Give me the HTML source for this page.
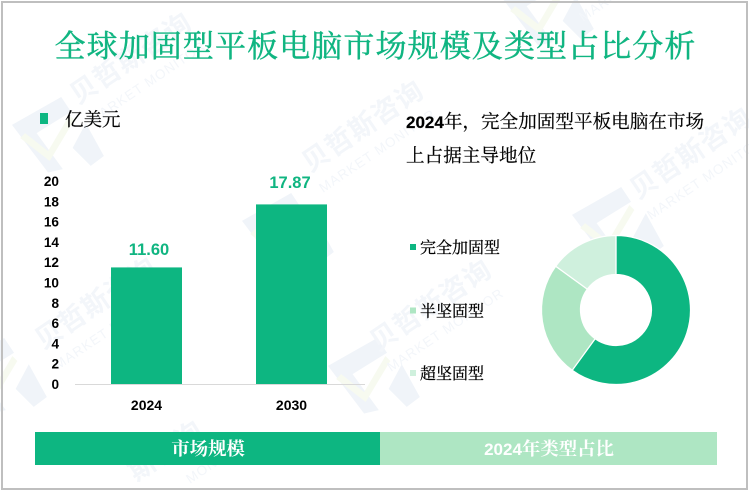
<!DOCTYPE html>
<html lang="zh-CN">
<head>
<meta charset="utf-8">
<title>全球加固型平板电脑市场规模及类型占比分析</title>
<style>
html,body{margin:0;padding:0;background:#fff;width:749px;height:491px;overflow:hidden;}
svg{display:block;}
.serif{font-family:"Liberation Serif","Noto Serif CJK SC",serif;}
.sans{font-family:"Liberation Sans","Noto Sans CJK SC",sans-serif;}
.wm-cn{font-family:"Liberation Sans","Noto Sans CJK SC",sans-serif;font-size:27px;font-weight:700;fill:#f3f6fa;letter-spacing:1px;}
.wm-en{font-family:"Liberation Sans",sans-serif;font-size:13.5px;fill:#f3f6fa;letter-spacing:1px;}
</style>
</head>
<body>
<svg id="chart" xmlns="http://www.w3.org/2000/svg" width="749" height="491" viewBox="0 0 749 491">
  <rect x="0" y="0" width="749" height="491" fill="#ffffff"/>

  <g id="watermarks"></g>

  <rect x="2" y="2" width="745" height="487" fill="none" stroke="#bfbfbf" stroke-width="2"/>

  <text class="serif" x="375.5" y="57" text-anchor="middle" font-size="31" letter-spacing="1.1" fill="#10b581" stroke="#10b581" stroke-width="0.45">全球加固型平板电脑市场规模及类型占比分析</text>

  <rect x="40" y="113" width="8" height="11" fill="#0db681"/>
  <text class="serif" x="65" y="126" font-size="18.5" fill="#000" stroke="#000" stroke-width="0.2">亿美元</text>

  <text class="serif" x="406" y="128" font-size="18.6" fill="#000" stroke="#000" stroke-width="0.2"><tspan class="sans" font-weight="700" font-size="17">2024</tspan>年，完全加固型平板电脑在市场</text>
  <text class="serif" x="406" y="162" font-size="18.6" fill="#000" stroke="#000" stroke-width="0.2">上占据主导地位</text>

  <g id="y-axis"></g>
  <g id="bars"></g>
  <g id="x-axis"></g>
  <g id="donut"></g>
  <g id="donut-legend"></g>

  <rect x="35" y="432" width="345" height="33" fill="#0db681"/>
  <text class="serif" x="208" y="455" text-anchor="middle" font-size="18.4" font-weight="700" fill="#ffffff">市场规模</text>
  <rect x="380" y="432" width="337" height="33" fill="#aee6c3"/>
  <text class="serif" x="549" y="455" text-anchor="middle" font-size="18.4" font-weight="700" fill="#ffffff"><tspan class="sans" font-size="17">2024</tspan>年类型占比</text>
</svg>
<script>
const categories = ['2024', '2030'];
const barValues = [11.60, 17.87];
const barLabels = ['11.60', '17.87'];
const yTicks = [0, 2, 4, 6, 8, 10, 12, 14, 16, 18, 20];
const donutNames = ['完全加固型', '半坚固型', '超坚固型'];
const donutShares = [60, 25, 15];

const NS = 'http://www.w3.org/2000/svg';
const BASE_Y = 384;
const PX_PER_UNIT = 10.05;
const TICK_PX_PER_UNIT = 10.15;
const LABEL_BASE_Y = 379;
const LABEL_PX_PER_UNIT = 10.69;
const BAND_START = 74;
const BAND_WIDTH = 145;
const BAR_WIDTH = 71;
const LABEL_X_START = 149;
const LABEL_X_STEP = 141;
const donutColors = ['#0db681', '#aee6c3', '#cff0dd'];
const legendRows = [247, 310.5, 373];

function yScale(v) { return BASE_Y - v * PX_PER_UNIT; }
function tickScale(v) { return BASE_Y - v * TICK_PX_PER_UNIT; }
function labelScale(v) { return LABEL_BASE_Y - v * LABEL_PX_PER_UNIT; }
function xBand(i) { return BAND_START + BAND_WIDTH * i + BAND_WIDTH / 2; }
function make(tag, attrs, text) {
  const el = document.createElementNS(NS, tag);
  for (const k in attrs) el.setAttribute(k, attrs[k]);
  if (text !== undefined) el.textContent = text;
  return el;
}

/* watermarks */
const wmGroup = document.getElementById('watermarks');
const wmLogos = [[12, 97], [242, 193], [572, 187], [-45, 338], [328, 338], [502, -30]];
const wmBrands = [[78, 105, '贝哲斯咨询'], [310, 173, '贝哲斯咨询'], [638, 200, '贝哲斯咨询'], [43, 350, '贝哲斯咨询'], [378, 352, '贝哲斯咨询'], [136, 482, '斯咨询']];
const wmEnglish = [[93, 125, 'MARKET MONITOR'], [323, 193, 'MARKET MONITOR'], [651, 220, 'MARKET MONITOR'], [58, 370, 'MARKET MONITOR'], [391, 372, 'MARKET MONITOR'], [583, 22, 'MARKET'], [190, 484, 'MONITOR']];

wmLogos.forEach(function (p) {
  const g = make('g', { transform: 'translate(' + p[0] + ',' + p[1] + ') scale(0.82)' });
  
  
  g.appendChild(make('path', { d: 'M0 34 L60 0 L72 18 L30 44 L62 88 L44 92 Z M74 62 L90 32 L112 72 L96 84 Z', fill: '#f0f4f9' }));
  g.appendChild(make('path', { d: 'M16 44 L44 66 L70 22 L76 28 L46 78 L10 50 Z', fill: '#f7faf0' }));
  wmGroup.appendChild(g);
});
wmBrands.forEach(function (b) {
  const cn = make('text', { class: 'wm-cn', x: b[0], y: b[1], transform: 'rotate(-34 ' + b[0] + ' ' + b[1] + ')' }, b[2]);
  
  
  wmGroup.appendChild(cn);
});
wmEnglish.forEach(function (b) {
  const en = make('text', { class: 'wm-en', x: b[0], y: b[1], transform: 'rotate(-34 ' + b[0] + ' ' + b[1] + ')' }, b[2]);
  
  
  wmGroup.appendChild(en);
});

/* y axis */
const yAxis = document.getElementById('y-axis');
yTicks.forEach(function (t) {
  const label = make('text', {
    class: 'sans', x: 59, y: tickScale(t) + 5, 'text-anchor': 'end',
    'font-size': 13.6, 'font-weight': 700, fill: '#000'
  }, String(t));
  
  
  yAxis.appendChild(label);
});

/* bars */
const barsGroup = document.getElementById('bars');
barValues.forEach(function (v, i) {
  const rect = make('rect', {
    x: xBand(i) - BAR_WIDTH / 2, y: yScale(v), width: BAR_WIDTH,
    height: BASE_Y - yScale(v), fill: '#0db681'
  });
  
  
  barsGroup.appendChild(rect);
  const lab = make('text', {
    class: 'sans', x: LABEL_X_START + LABEL_X_STEP * i, y: labelScale(v), 'text-anchor': 'middle',
    'font-size': 16.5, 'font-weight': 700, fill: '#10b581'
  }, barLabels[i]);
  
  
  barsGroup.appendChild(lab);
});

/* x axis */
const xAxis = document.getElementById('x-axis');
const axisLine = make('line', { x1: 75, x2: 365, y1: BASE_Y + 0.5, y2: BASE_Y + 0.5, stroke: '#d9d9d9', 'stroke-width': 1 });


xAxis.appendChild(axisLine);
categories.forEach(function (c, i) {
  const t = make('text', {
    class: 'sans', x: xBand(i), y: 410, 'text-anchor': 'middle',
    'font-size': 14, 'font-weight': 700, fill: '#000'
  }, c);
  
  
  xAxis.appendChild(t);
});

/* donut */
const CX = 616, CY = 310, R_OUT = 74.5, R_IN = 35.5;
const donutGroup = document.getElementById('donut');
const total = donutShares.reduce(function (a, b) { return a + b; }, 0);
function polar(r, a) { return [CX + r * Math.sin(a), CY - r * Math.cos(a)]; }
let angle = 0;
donutShares.forEach(function (s, idx) {
  const next = angle + s / total * Math.PI * 2;
  const large = next - angle > Math.PI ? 1 : 0;
  const p1 = polar(R_OUT, angle), p2 = polar(R_OUT, next), p3 = polar(R_IN, next), p4 = polar(R_IN, angle);
  const path = make('path', {
    d: 'M' + p1[0] + ' ' + p1[1] + ' A' + R_OUT + ' ' + R_OUT + ' 0 ' + large + ' 1 ' + p2[0] + ' ' + p2[1] +
       ' L' + p3[0] + ' ' + p3[1] + ' A' + R_IN + ' ' + R_IN + ' 0 ' + large + ' 0 ' + p4[0] + ' ' + p4[1] + ' Z',
    fill: donutColors[idx], stroke: '#ffffff', 'stroke-width': 1.2
  });
  
  
  donutGroup.appendChild(path);
  angle = next;
});

/* donut legend */
const legendGroup = document.getElementById('donut-legend');
donutNames.forEach(function (n, i) {
  const sw = make('rect', { x: 410, y: legendRows[i] - 3, width: 6, height: 6, fill: donutColors[i] });
  
  
  legendGroup.appendChild(sw);
  const t = make('text', { class: 'serif', x: 420, y: legendRows[i] + 6, 'font-size': 16, fill: '#000', stroke: '#000', 'stroke-width': 0.25 }, n);
  
  
  legendGroup.appendChild(t);
});
</script>
</body>
</html>
